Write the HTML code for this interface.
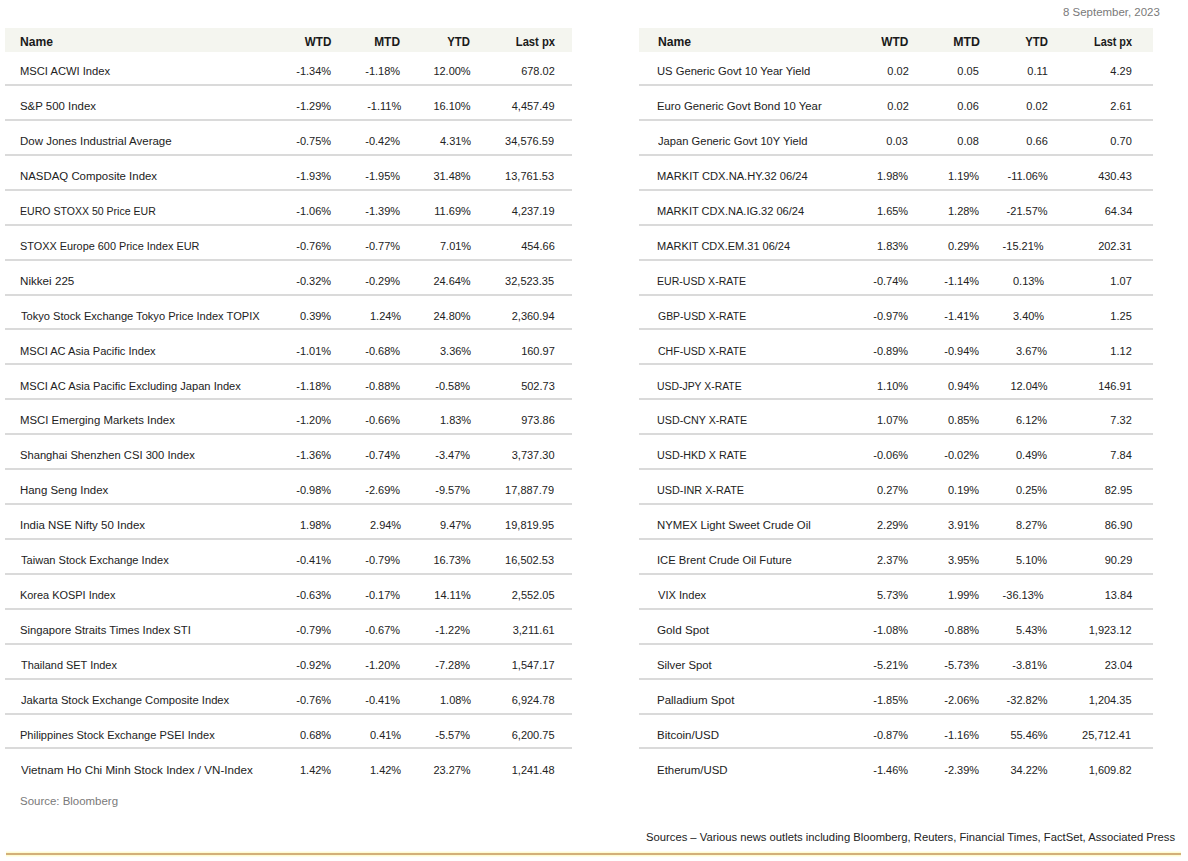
<!DOCTYPE html>
<html><head><meta charset="utf-8"><title>Markets</title>
<style>
html,body{margin:0;padding:0;background:#fff;}
body{width:1188px;height:861px;position:relative;overflow:hidden;font-family:"Liberation Sans",Arial,sans-serif;font-size:11.7px;color:#222;}
.t{position:absolute;white-space:nowrap;line-height:14px;height:14px;}
.t span{display:inline-block;}
.l span{transform-origin:0 50%;}
.r span{transform-origin:100% 50%;}
.hd{position:absolute;height:24px;background:#f4f5ef;}
.ln{position:absolute;height:2px;background:#dadada;}
.b{font-weight:bold;color:#1a1a1a;font-size:12px;}
.g{color:#7a7a7a;}
.gold{position:absolute;left:6px;top:853px;width:1175px;height:2px;background:#d3b079;box-shadow:0 -1px 0 #fefcd2,0 1px 0 #fefcd2,0 -2px 0 #fffeea,0 2px 0 #fffeea;}
</style></head><body>
<div class="hd" style="left:5px;top:28px;width:567px"></div>
<div class="ln" style="left:5px;top:84px;width:567px"></div>
<div class="ln" style="left:5px;top:119px;width:567px"></div>
<div class="ln" style="left:5px;top:154px;width:567px"></div>
<div class="ln" style="left:5px;top:189px;width:567px"></div>
<div class="ln" style="left:5px;top:224px;width:567px"></div>
<div class="ln" style="left:5px;top:259px;width:567px"></div>
<div class="ln" style="left:5px;top:294px;width:567px"></div>
<div class="ln" style="left:5px;top:328px;width:567px"></div>
<div class="ln" style="left:5px;top:363px;width:567px"></div>
<div class="ln" style="left:5px;top:398px;width:567px"></div>
<div class="ln" style="left:5px;top:433px;width:567px"></div>
<div class="ln" style="left:5px;top:468px;width:567px"></div>
<div class="ln" style="left:5px;top:503px;width:567px"></div>
<div class="ln" style="left:5px;top:538px;width:567px"></div>
<div class="ln" style="left:5px;top:573px;width:567px"></div>
<div class="ln" style="left:5px;top:608px;width:567px"></div>
<div class="ln" style="left:5px;top:643px;width:567px"></div>
<div class="ln" style="left:5px;top:678px;width:567px"></div>
<div class="ln" style="left:5px;top:713px;width:567px"></div>
<div class="ln" style="left:5px;top:747px;width:567px"></div>
<div class="hd" style="left:639px;top:28px;width:514px"></div>
<div class="ln" style="left:639px;top:84px;width:514px"></div>
<div class="ln" style="left:639px;top:119px;width:514px"></div>
<div class="ln" style="left:639px;top:154px;width:514px"></div>
<div class="ln" style="left:639px;top:189px;width:514px"></div>
<div class="ln" style="left:639px;top:224px;width:514px"></div>
<div class="ln" style="left:639px;top:259px;width:514px"></div>
<div class="ln" style="left:639px;top:294px;width:514px"></div>
<div class="ln" style="left:639px;top:328px;width:514px"></div>
<div class="ln" style="left:639px;top:363px;width:514px"></div>
<div class="ln" style="left:639px;top:398px;width:514px"></div>
<div class="ln" style="left:639px;top:433px;width:514px"></div>
<div class="ln" style="left:639px;top:468px;width:514px"></div>
<div class="ln" style="left:639px;top:503px;width:514px"></div>
<div class="ln" style="left:639px;top:538px;width:514px"></div>
<div class="ln" style="left:639px;top:573px;width:514px"></div>
<div class="ln" style="left:639px;top:608px;width:514px"></div>
<div class="ln" style="left:639px;top:643px;width:514px"></div>
<div class="ln" style="left:639px;top:678px;width:514px"></div>
<div class="ln" style="left:639px;top:713px;width:514px"></div>
<div class="ln" style="left:639px;top:747px;width:514px"></div>
<div class="t r g" style="right:28.02px;top:5px"><span style="transform:scaleX(0.9794)">8 September, 2023</span></div>
<div class="t l b" style="left:20.47px;top:35px"><span style="transform:scaleX(1.0086)">Name</span></div>
<div class="t r b" style="right:857.00px;top:35px"><span style="transform:scaleX(0.9729)">WTD</span></div>
<div class="t r b" style="right:787.69px;top:35px"><span style="transform:scaleX(0.9927)">MTD</span></div>
<div class="t r b" style="right:717.72px;top:35px"><span style="transform:scaleX(0.9477)">YTD</span></div>
<div class="t r b" style="right:633.27px;top:35px"><span style="transform:scaleX(0.9333)">Last px</span></div>
<div class="t l" style="left:20.04px;top:64px"><span style="transform:scaleX(0.9568)">MSCI ACWI Index</span></div>
<div class="t r" style="right:857.00px;top:64px"><span style="transform:scaleX(0.9400)">-1.34%</span></div>
<div class="t r" style="right:787.73px;top:64px"><span style="transform:scaleX(0.9400)">-1.18%</span></div>
<div class="t r" style="right:717.03px;top:64px"><span style="transform:scaleX(0.9400)">12.00%</span></div>
<div class="t r" style="right:633.03px;top:64px"><span style="transform:scaleX(0.9400)">678.02</span></div>
<div class="t l" style="left:20.02px;top:99px"><span style="transform:scaleX(0.9767)">S&amp;P 500 Index</span></div>
<div class="t r" style="right:857.00px;top:99px"><span style="transform:scaleX(0.9400)">-1.29%</span></div>
<div class="t r" style="right:787.03px;top:99px"><span style="transform:scaleX(0.9400)">-1.11%</span></div>
<div class="t r" style="right:717.03px;top:99px"><span style="transform:scaleX(0.9400)">16.10%</span></div>
<div class="t r" style="right:633.03px;top:99px"><span style="transform:scaleX(0.9400)">4,457.49</span></div>
<div class="t l" style="left:20.02px;top:134px"><span style="transform:scaleX(0.9820)">Dow Jones Industrial Average</span></div>
<div class="t r" style="right:857.00px;top:134px"><span style="transform:scaleX(0.9400)">-0.75%</span></div>
<div class="t r" style="right:787.73px;top:134px"><span style="transform:scaleX(0.9400)">-0.42%</span></div>
<div class="t r" style="right:717.03px;top:134px"><span style="transform:scaleX(0.9400)">4.31%</span></div>
<div class="t r" style="right:633.73px;top:134px"><span style="transform:scaleX(0.9400)">34,576.59</span></div>
<div class="t l" style="left:20.02px;top:169px"><span style="transform:scaleX(0.9767)">NASDAQ Composite Index</span></div>
<div class="t r" style="right:857.00px;top:169px"><span style="transform:scaleX(0.9400)">-1.93%</span></div>
<div class="t r" style="right:787.73px;top:169px"><span style="transform:scaleX(0.9400)">-1.95%</span></div>
<div class="t r" style="right:717.03px;top:169px"><span style="transform:scaleX(0.9400)">31.48%</span></div>
<div class="t r" style="right:633.73px;top:169px"><span style="transform:scaleX(0.9400)">13,761.53</span></div>
<div class="t l" style="left:20.10px;top:204px"><span style="transform:scaleX(0.9024)">EURO STOXX 50 Price EUR</span></div>
<div class="t r" style="right:857.00px;top:204px"><span style="transform:scaleX(0.9400)">-1.06%</span></div>
<div class="t r" style="right:787.73px;top:204px"><span style="transform:scaleX(0.9400)">-1.39%</span></div>
<div class="t r" style="right:717.73px;top:204px"><span style="transform:scaleX(0.9400)">11.69%</span></div>
<div class="t r" style="right:633.03px;top:204px"><span style="transform:scaleX(0.9400)">4,237.19</span></div>
<div class="t l" style="left:20.07px;top:239px"><span style="transform:scaleX(0.9307)">STOXX Europe 600 Price Index EUR</span></div>
<div class="t r" style="right:857.00px;top:239px"><span style="transform:scaleX(0.9400)">-0.76%</span></div>
<div class="t r" style="right:787.73px;top:239px"><span style="transform:scaleX(0.9400)">-0.77%</span></div>
<div class="t r" style="right:717.03px;top:239px"><span style="transform:scaleX(0.9400)">7.01%</span></div>
<div class="t r" style="right:633.73px;top:239px"><span style="transform:scaleX(0.9400)">454.66</span></div>
<div class="t l" style="left:20.00px;top:274px"><span style="transform:scaleX(0.9955)">Nikkei 225</span></div>
<div class="t r" style="right:857.00px;top:274px"><span style="transform:scaleX(0.9400)">-0.32%</span></div>
<div class="t r" style="right:787.73px;top:274px"><span style="transform:scaleX(0.9400)">-0.29%</span></div>
<div class="t r" style="right:717.03px;top:274px"><span style="transform:scaleX(0.9400)">24.64%</span></div>
<div class="t r" style="right:633.73px;top:274px"><span style="transform:scaleX(0.9400)">32,523.35</span></div>
<div class="t l" style="left:21.00px;top:309px"><span style="transform:scaleX(0.9492)">Tokyo Stock Exchange Tokyo Price Index TOPIX</span></div>
<div class="t r" style="right:857.00px;top:309px"><span style="transform:scaleX(0.9400)">0.39%</span></div>
<div class="t r" style="right:787.03px;top:309px"><span style="transform:scaleX(0.9400)">1.24%</span></div>
<div class="t r" style="right:717.03px;top:309px"><span style="transform:scaleX(0.9400)">24.80%</span></div>
<div class="t r" style="right:633.73px;top:309px"><span style="transform:scaleX(0.9400)">2,360.94</span></div>
<div class="t l" style="left:20.05px;top:344px"><span style="transform:scaleX(0.9490)">MSCI AC Asia Pacific Index</span></div>
<div class="t r" style="right:857.00px;top:344px"><span style="transform:scaleX(0.9400)">-1.01%</span></div>
<div class="t r" style="right:787.73px;top:344px"><span style="transform:scaleX(0.9400)">-0.68%</span></div>
<div class="t r" style="right:717.03px;top:344px"><span style="transform:scaleX(0.9400)">3.36%</span></div>
<div class="t r" style="right:633.73px;top:344px"><span style="transform:scaleX(0.9400)">160.97</span></div>
<div class="t l" style="left:20.05px;top:379px"><span style="transform:scaleX(0.9524)">MSCI AC Asia Pacific Excluding Japan Index</span></div>
<div class="t r" style="right:857.00px;top:379px"><span style="transform:scaleX(0.9400)">-1.18%</span></div>
<div class="t r" style="right:787.73px;top:379px"><span style="transform:scaleX(0.9400)">-0.88%</span></div>
<div class="t r" style="right:717.73px;top:379px"><span style="transform:scaleX(0.9400)">-0.58%</span></div>
<div class="t r" style="right:633.73px;top:379px"><span style="transform:scaleX(0.9400)">502.73</span></div>
<div class="t l" style="left:20.03px;top:413px"><span style="transform:scaleX(0.9732)">MSCI Emerging Markets Index</span></div>
<div class="t r" style="right:857.00px;top:413px"><span style="transform:scaleX(0.9400)">-1.20%</span></div>
<div class="t r" style="right:787.73px;top:413px"><span style="transform:scaleX(0.9400)">-0.66%</span></div>
<div class="t r" style="right:717.03px;top:413px"><span style="transform:scaleX(0.9400)">1.83%</span></div>
<div class="t r" style="right:633.73px;top:413px"><span style="transform:scaleX(0.9400)">973.86</span></div>
<div class="t l" style="left:20.04px;top:448px"><span style="transform:scaleX(0.9571)">Shanghai Shenzhen CSI 300 Index</span></div>
<div class="t r" style="right:857.00px;top:448px"><span style="transform:scaleX(0.9400)">-1.36%</span></div>
<div class="t r" style="right:787.73px;top:448px"><span style="transform:scaleX(0.9400)">-0.74%</span></div>
<div class="t r" style="right:717.73px;top:448px"><span style="transform:scaleX(0.9400)">-3.47%</span></div>
<div class="t r" style="right:633.03px;top:448px"><span style="transform:scaleX(0.9400)">3,737.30</span></div>
<div class="t l" style="left:20.02px;top:483px"><span style="transform:scaleX(0.9775)">Hang Seng Index</span></div>
<div class="t r" style="right:857.00px;top:483px"><span style="transform:scaleX(0.9400)">-0.98%</span></div>
<div class="t r" style="right:787.73px;top:483px"><span style="transform:scaleX(0.9400)">-2.69%</span></div>
<div class="t r" style="right:717.73px;top:483px"><span style="transform:scaleX(0.9400)">-9.57%</span></div>
<div class="t r" style="right:633.73px;top:483px"><span style="transform:scaleX(0.9400)">17,887.79</span></div>
<div class="t l" style="left:20.02px;top:518px"><span style="transform:scaleX(0.9822)">India NSE Nifty 50 Index</span></div>
<div class="t r" style="right:857.00px;top:518px"><span style="transform:scaleX(0.9400)">1.98%</span></div>
<div class="t r" style="right:787.03px;top:518px"><span style="transform:scaleX(0.9400)">2.94%</span></div>
<div class="t r" style="right:717.03px;top:518px"><span style="transform:scaleX(0.9400)">9.47%</span></div>
<div class="t r" style="right:633.73px;top:518px"><span style="transform:scaleX(0.9400)">19,819.95</span></div>
<div class="t l" style="left:21.00px;top:553px"><span style="transform:scaleX(0.9471)">Taiwan Stock Exchange Index</span></div>
<div class="t r" style="right:857.00px;top:553px"><span style="transform:scaleX(0.9400)">-0.41%</span></div>
<div class="t r" style="right:787.73px;top:553px"><span style="transform:scaleX(0.9400)">-0.79%</span></div>
<div class="t r" style="right:717.03px;top:553px"><span style="transform:scaleX(0.9400)">16.73%</span></div>
<div class="t r" style="right:633.73px;top:553px"><span style="transform:scaleX(0.9400)">16,502.53</span></div>
<div class="t l" style="left:20.06px;top:588px"><span style="transform:scaleX(0.9353)">Korea KOSPI Index</span></div>
<div class="t r" style="right:857.00px;top:588px"><span style="transform:scaleX(0.9400)">-0.63%</span></div>
<div class="t r" style="right:787.73px;top:588px"><span style="transform:scaleX(0.9400)">-0.17%</span></div>
<div class="t r" style="right:717.73px;top:588px"><span style="transform:scaleX(0.9400)">14.11%</span></div>
<div class="t r" style="right:633.03px;top:588px"><span style="transform:scaleX(0.9400)">2,552.05</span></div>
<div class="t l" style="left:20.04px;top:623px"><span style="transform:scaleX(0.9631)">Singapore Straits Times Index STI</span></div>
<div class="t r" style="right:857.00px;top:623px"><span style="transform:scaleX(0.9400)">-0.79%</span></div>
<div class="t r" style="right:787.73px;top:623px"><span style="transform:scaleX(0.9400)">-0.67%</span></div>
<div class="t r" style="right:717.73px;top:623px"><span style="transform:scaleX(0.9400)">-1.22%</span></div>
<div class="t r" style="right:633.03px;top:623px"><span style="transform:scaleX(0.9400)">3,211.61</span></div>
<div class="t l" style="left:21.00px;top:658px"><span style="transform:scaleX(0.9363)">Thailand SET Index</span></div>
<div class="t r" style="right:857.00px;top:658px"><span style="transform:scaleX(0.9400)">-0.92%</span></div>
<div class="t r" style="right:787.73px;top:658px"><span style="transform:scaleX(0.9400)">-1.20%</span></div>
<div class="t r" style="right:717.73px;top:658px"><span style="transform:scaleX(0.9400)">-7.28%</span></div>
<div class="t r" style="right:633.03px;top:658px"><span style="transform:scaleX(0.9400)">1,547.17</span></div>
<div class="t l" style="left:21.00px;top:693px"><span style="transform:scaleX(0.9596)">Jakarta Stock Exchange Composite Index</span></div>
<div class="t r" style="right:857.00px;top:693px"><span style="transform:scaleX(0.9400)">-0.76%</span></div>
<div class="t r" style="right:787.73px;top:693px"><span style="transform:scaleX(0.9400)">-0.41%</span></div>
<div class="t r" style="right:717.03px;top:693px"><span style="transform:scaleX(0.9400)">1.08%</span></div>
<div class="t r" style="right:633.03px;top:693px"><span style="transform:scaleX(0.9400)">6,924.78</span></div>
<div class="t l" style="left:20.05px;top:728px"><span style="transform:scaleX(0.9452)">Philippines Stock Exchange PSEI Index</span></div>
<div class="t r" style="right:857.00px;top:728px"><span style="transform:scaleX(0.9400)">0.68%</span></div>
<div class="t r" style="right:787.03px;top:728px"><span style="transform:scaleX(0.9400)">0.41%</span></div>
<div class="t r" style="right:717.73px;top:728px"><span style="transform:scaleX(0.9400)">-5.57%</span></div>
<div class="t r" style="right:633.03px;top:728px"><span style="transform:scaleX(0.9400)">6,200.75</span></div>
<div class="t l" style="left:21.00px;top:763px"><span style="transform:scaleX(0.9945)">Vietnam Ho Chi Minh Stock Index / VN-Index</span></div>
<div class="t r" style="right:857.00px;top:763px"><span style="transform:scaleX(0.9400)">1.42%</span></div>
<div class="t r" style="right:787.03px;top:763px"><span style="transform:scaleX(0.9400)">1.42%</span></div>
<div class="t r" style="right:717.03px;top:763px"><span style="transform:scaleX(0.9400)">23.27%</span></div>
<div class="t r" style="right:633.03px;top:763px"><span style="transform:scaleX(0.9400)">1,241.48</span></div>
<div class="t l b" style="left:657.69px;top:35px"><span style="transform:scaleX(1.0129)">Name</span></div>
<div class="t r b" style="right:280.03px;top:35px"><span style="transform:scaleX(0.9907)">WTD</span></div>
<div class="t r b" style="right:208.48px;top:35px"><span style="transform:scaleX(1.0304)">MTD</span></div>
<div class="t r b" style="right:140.48px;top:35px"><span style="transform:scaleX(0.9477)">YTD</span></div>
<div class="t r b" style="right:55.74px;top:35px"><span style="transform:scaleX(0.9036)">Last px</span></div>
<div class="t l" style="left:657.01px;top:64px"><span style="transform:scaleX(0.9590)">US Generic Govt 10 Year Yield</span></div>
<div class="t r" style="right:279.06px;top:64px"><span style="transform:scaleX(0.9400)">0.02</span></div>
<div class="t r" style="right:209.00px;top:64px"><span style="transform:scaleX(0.9400)">0.05</span></div>
<div class="t r" style="right:140.00px;top:64px"><span style="transform:scaleX(0.9400)">0.11</span></div>
<div class="t r" style="right:56.73px;top:64px"><span style="transform:scaleX(0.9400)">4.29</span></div>
<div class="t l" style="left:657.01px;top:99px"><span style="transform:scaleX(0.9673)">Euro Generic Govt Bond 10 Year</span></div>
<div class="t r" style="right:279.06px;top:99px"><span style="transform:scaleX(0.9400)">0.02</span></div>
<div class="t r" style="right:209.00px;top:99px"><span style="transform:scaleX(0.9400)">0.06</span></div>
<div class="t r" style="right:140.00px;top:99px"><span style="transform:scaleX(0.9400)">0.02</span></div>
<div class="t r" style="right:56.03px;top:99px"><span style="transform:scaleX(0.9400)">2.61</span></div>
<div class="t l" style="left:657.97px;top:134px"><span style="transform:scaleX(0.9551)">Japan Generic Govt 10Y Yield</span></div>
<div class="t r" style="right:280.00px;top:134px"><span style="transform:scaleX(0.9400)">0.03</span></div>
<div class="t r" style="right:209.00px;top:134px"><span style="transform:scaleX(0.9400)">0.08</span></div>
<div class="t r" style="right:140.70px;top:134px"><span style="transform:scaleX(0.9400)">0.66</span></div>
<div class="t r" style="right:56.73px;top:134px"><span style="transform:scaleX(0.9400)">0.70</span></div>
<div class="t l" style="left:657.02px;top:169px"><span style="transform:scaleX(0.9536)">MARKIT CDX.NA.HY.32 06/24</span></div>
<div class="t r" style="right:280.00px;top:169px"><span style="transform:scaleX(0.9400)">1.98%</span></div>
<div class="t r" style="right:209.00px;top:169px"><span style="transform:scaleX(0.9400)">1.19%</span></div>
<div class="t r" style="right:140.70px;top:169px"><span style="transform:scaleX(0.9400)">-11.06%</span></div>
<div class="t r" style="right:56.73px;top:169px"><span style="transform:scaleX(0.9400)">430.43</span></div>
<div class="t l" style="left:657.02px;top:204px"><span style="transform:scaleX(0.9449)">MARKIT CDX.NA.IG.32 06/24</span></div>
<div class="t r" style="right:280.00px;top:204px"><span style="transform:scaleX(0.9400)">1.65%</span></div>
<div class="t r" style="right:209.00px;top:204px"><span style="transform:scaleX(0.9400)">1.28%</span></div>
<div class="t r" style="right:140.00px;top:204px"><span style="transform:scaleX(0.9400)">-21.57%</span></div>
<div class="t r" style="right:56.03px;top:204px"><span style="transform:scaleX(0.9400)">64.34</span></div>
<div class="t l" style="left:657.03px;top:239px"><span style="transform:scaleX(0.9413)">MARKIT CDX.EM.31 06/24</span></div>
<div class="t r" style="right:280.00px;top:239px"><span style="transform:scaleX(0.9400)">1.83%</span></div>
<div class="t r" style="right:209.00px;top:239px"><span style="transform:scaleX(0.9400)">0.29%</span></div>
<div class="t r" style="right:144.03px;top:239px"><span style="transform:scaleX(0.9400)">-15.21%</span></div>
<div class="t r" style="right:56.03px;top:239px"><span style="transform:scaleX(0.9400)">202.31</span></div>
<div class="t l" style="left:657.06px;top:274px"><span style="transform:scaleX(0.9044)">EUR-USD X-RATE</span></div>
<div class="t r" style="right:280.00px;top:274px"><span style="transform:scaleX(0.9400)">-0.74%</span></div>
<div class="t r" style="right:209.00px;top:274px"><span style="transform:scaleX(0.9400)">-1.14%</span></div>
<div class="t r" style="right:144.03px;top:274px"><span style="transform:scaleX(0.9400)">0.13%</span></div>
<div class="t r" style="right:56.73px;top:274px"><span style="transform:scaleX(0.9400)">1.07</span></div>
<div class="t l" style="left:658.45px;top:309px"><span style="transform:scaleX(0.8952)">GBP-USD X-RATE</span></div>
<div class="t r" style="right:280.00px;top:309px"><span style="transform:scaleX(0.9400)">-0.97%</span></div>
<div class="t r" style="right:209.00px;top:309px"><span style="transform:scaleX(0.9400)">-1.41%</span></div>
<div class="t r" style="right:144.03px;top:309px"><span style="transform:scaleX(0.9400)">3.40%</span></div>
<div class="t r" style="right:56.73px;top:309px"><span style="transform:scaleX(0.9400)">1.25</span></div>
<div class="t l" style="left:658.45px;top:344px"><span style="transform:scaleX(0.9023)">CHF-USD X-RATE</span></div>
<div class="t r" style="right:280.00px;top:344px"><span style="transform:scaleX(0.9400)">-0.89%</span></div>
<div class="t r" style="right:209.00px;top:344px"><span style="transform:scaleX(0.9400)">-0.94%</span></div>
<div class="t r" style="right:140.70px;top:344px"><span style="transform:scaleX(0.9400)">3.67%</span></div>
<div class="t r" style="right:56.03px;top:344px"><span style="transform:scaleX(0.9400)">1.12</span></div>
<div class="t l" style="left:657.07px;top:379px"><span style="transform:scaleX(0.8909)">USD-JPY X-RATE</span></div>
<div class="t r" style="right:280.00px;top:379px"><span style="transform:scaleX(0.9400)">1.10%</span></div>
<div class="t r" style="right:209.00px;top:379px"><span style="transform:scaleX(0.9400)">0.94%</span></div>
<div class="t r" style="right:140.00px;top:379px"><span style="transform:scaleX(0.9400)">12.04%</span></div>
<div class="t r" style="right:56.03px;top:379px"><span style="transform:scaleX(0.9400)">146.91</span></div>
<div class="t l" style="left:657.05px;top:413px"><span style="transform:scaleX(0.9175)">USD-CNY X-RATE</span></div>
<div class="t r" style="right:280.00px;top:413px"><span style="transform:scaleX(0.9400)">1.07%</span></div>
<div class="t r" style="right:209.00px;top:413px"><span style="transform:scaleX(0.9400)">0.85%</span></div>
<div class="t r" style="right:140.70px;top:413px"><span style="transform:scaleX(0.9400)">6.12%</span></div>
<div class="t r" style="right:56.03px;top:413px"><span style="transform:scaleX(0.9400)">7.32</span></div>
<div class="t l" style="left:657.04px;top:448px"><span style="transform:scaleX(0.9171)">USD-HKD X RATE</span></div>
<div class="t r" style="right:280.00px;top:448px"><span style="transform:scaleX(0.9400)">-0.06%</span></div>
<div class="t r" style="right:209.00px;top:448px"><span style="transform:scaleX(0.9400)">-0.02%</span></div>
<div class="t r" style="right:140.70px;top:448px"><span style="transform:scaleX(0.9400)">0.49%</span></div>
<div class="t r" style="right:56.73px;top:448px"><span style="transform:scaleX(0.9400)">7.84</span></div>
<div class="t l" style="left:657.04px;top:483px"><span style="transform:scaleX(0.9269)">USD-INR X-RATE</span></div>
<div class="t r" style="right:280.00px;top:483px"><span style="transform:scaleX(0.9400)">0.27%</span></div>
<div class="t r" style="right:209.00px;top:483px"><span style="transform:scaleX(0.9400)">0.19%</span></div>
<div class="t r" style="right:140.70px;top:483px"><span style="transform:scaleX(0.9400)">0.25%</span></div>
<div class="t r" style="right:56.03px;top:483px"><span style="transform:scaleX(0.9400)">82.95</span></div>
<div class="t l" style="left:657.00px;top:518px"><span style="transform:scaleX(0.9697)">NYMEX Light Sweet Crude Oil</span></div>
<div class="t r" style="right:280.00px;top:518px"><span style="transform:scaleX(0.9400)">2.29%</span></div>
<div class="t r" style="right:209.00px;top:518px"><span style="transform:scaleX(0.9400)">3.91%</span></div>
<div class="t r" style="right:140.70px;top:518px"><span style="transform:scaleX(0.9400)">8.27%</span></div>
<div class="t r" style="right:56.03px;top:518px"><span style="transform:scaleX(0.9400)">86.90</span></div>
<div class="t l" style="left:657.01px;top:553px"><span style="transform:scaleX(0.9604)">ICE Brent Crude Oil Future</span></div>
<div class="t r" style="right:280.00px;top:553px"><span style="transform:scaleX(0.9400)">2.37%</span></div>
<div class="t r" style="right:209.00px;top:553px"><span style="transform:scaleX(0.9400)">3.95%</span></div>
<div class="t r" style="right:140.70px;top:553px"><span style="transform:scaleX(0.9400)">5.10%</span></div>
<div class="t r" style="right:56.03px;top:553px"><span style="transform:scaleX(0.9400)">90.29</span></div>
<div class="t l" style="left:657.97px;top:588px"><span style="transform:scaleX(0.9504)">VIX Index</span></div>
<div class="t r" style="right:280.00px;top:588px"><span style="transform:scaleX(0.9400)">5.73%</span></div>
<div class="t r" style="right:209.00px;top:588px"><span style="transform:scaleX(0.9400)">1.99%</span></div>
<div class="t r" style="right:144.03px;top:588px"><span style="transform:scaleX(0.9400)">-36.13%</span></div>
<div class="t r" style="right:56.03px;top:588px"><span style="transform:scaleX(0.9400)">13.84</span></div>
<div class="t l" style="left:656.97px;top:623px"><span style="transform:scaleX(0.9997)">Gold Spot</span></div>
<div class="t r" style="right:280.00px;top:623px"><span style="transform:scaleX(0.9400)">-1.08%</span></div>
<div class="t r" style="right:209.00px;top:623px"><span style="transform:scaleX(0.9400)">-0.88%</span></div>
<div class="t r" style="right:140.70px;top:623px"><span style="transform:scaleX(0.9400)">5.43%</span></div>
<div class="t r" style="right:56.03px;top:623px"><span style="transform:scaleX(0.9400)">1,923.12</span></div>
<div class="t l" style="left:657.01px;top:658px"><span style="transform:scaleX(0.9683)">Silver Spot</span></div>
<div class="t r" style="right:280.00px;top:658px"><span style="transform:scaleX(0.9400)">-5.21%</span></div>
<div class="t r" style="right:209.00px;top:658px"><span style="transform:scaleX(0.9400)">-5.73%</span></div>
<div class="t r" style="right:140.70px;top:658px"><span style="transform:scaleX(0.9400)">-3.81%</span></div>
<div class="t r" style="right:56.03px;top:658px"><span style="transform:scaleX(0.9400)">23.04</span></div>
<div class="t l" style="left:656.99px;top:693px"><span style="transform:scaleX(0.9836)">Palladium Spot</span></div>
<div class="t r" style="right:280.00px;top:693px"><span style="transform:scaleX(0.9400)">-1.85%</span></div>
<div class="t r" style="right:209.00px;top:693px"><span style="transform:scaleX(0.9400)">-2.06%</span></div>
<div class="t r" style="right:140.00px;top:693px"><span style="transform:scaleX(0.9400)">-32.82%</span></div>
<div class="t r" style="right:56.03px;top:693px"><span style="transform:scaleX(0.9400)">1,204.35</span></div>
<div class="t l" style="left:656.99px;top:728px"><span style="transform:scaleX(0.9839)">Bitcoin/USD</span></div>
<div class="t r" style="right:280.00px;top:728px"><span style="transform:scaleX(0.9400)">-0.87%</span></div>
<div class="t r" style="right:209.00px;top:728px"><span style="transform:scaleX(0.9400)">-1.16%</span></div>
<div class="t r" style="right:140.00px;top:728px"><span style="transform:scaleX(0.9400)">55.46%</span></div>
<div class="t r" style="right:56.73px;top:728px"><span style="transform:scaleX(0.9400)">25,712.41</span></div>
<div class="t l" style="left:657.00px;top:763px"><span style="transform:scaleX(0.9786)">Etherum/USD</span></div>
<div class="t r" style="right:280.00px;top:763px"><span style="transform:scaleX(0.9400)">-1.46%</span></div>
<div class="t r" style="right:209.00px;top:763px"><span style="transform:scaleX(0.9400)">-2.39%</span></div>
<div class="t r" style="right:140.00px;top:763px"><span style="transform:scaleX(0.9400)">34.22%</span></div>
<div class="t r" style="right:56.03px;top:763px"><span style="transform:scaleX(0.9400)">1,609.82</span></div>
<div class="t l g" style="left:20.02px;top:794px"><span style="transform:scaleX(0.9798)">Source: Bloomberg</span></div>
<div class="t r" style="right:13.00px;top:830px"><span style="transform:scaleX(0.9618)">Sources – Various news outlets including Bloomberg, Reuters, Financial Times, FactSet, Associated Press</span></div>
<div class="gold"></div>
</body></html>
